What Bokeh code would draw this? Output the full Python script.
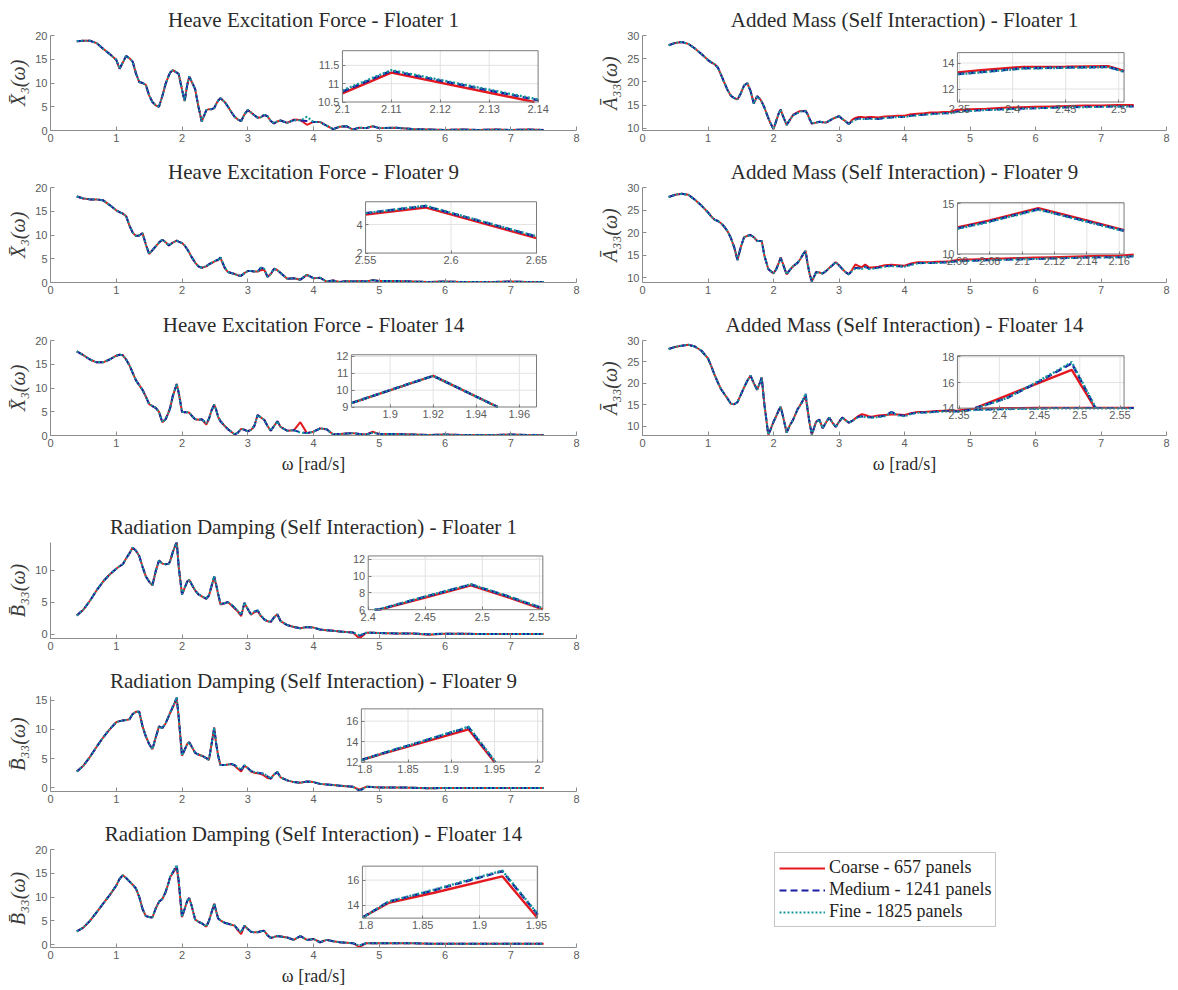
from bokeh.plotting import figure
from bokeh.models import Range1d, LinearAxis, FixedTicker, CustomJSTickFormatter, Legend, LegendItem
from bokeh.layouts import column, row
from bokeh.embed import file_html
from bokeh.resources import INLINE

# ---------------- data ----------------
omega = [0.4, 0.5, 0.6, 0.7, 0.8, 0.9, 1.0,
         1.05, 1.1, 1.15, 1.2, 1.25, 1.3, 1.35, 1.4, 1.45, 1.5, 1.55, 1.6, 1.65, 1.7, 1.75, 1.8,
         1.82, 1.86, 1.92, 1.95, 2.0, 2.04, 2.08, 2.11, 2.14, 2.2, 2.25, 2.3,
         2.37, 2.41, 2.45, 2.49, 2.52, 2.55, 2.585, 2.65,
         2.7, 2.75, 2.8, 2.85, 2.9, 2.95, 3.0, 3.05, 3.1, 3.15, 3.2, 3.25, 3.3, 3.35, 3.4, 3.45, 3.5,
         3.6, 3.7, 3.8, 3.9, 4.0, 4.1, 4.2, 4.3, 4.4, 4.5, 4.6, 4.7, 4.8, 4.9, 5.0,
         5.25, 5.5, 5.75, 6.0, 6.25, 6.5, 6.75, 7.0, 7.25, 7.5]

# Heave excitation force - floater 1
hf1_coarse = [18.8, 18.9, 18.9, 18.4, 17.2, 16.1, 14.9,
              13.0, 14.3, 15.7, 15.2, 14.5, 12.0, 10.2, 10.0, 9.6, 7.4, 6.0, 5.3, 5.0, 7.2, 9.8, 11.6,
              12.2, 12.7, 12.2, 11.9, 8.6, 6.2, 9.6, 11.3, 10.48, 8.7, 5.0, 1.9,
              4.3, 4.5, 4.5, 4.7, 5.6, 6.3, 6.8, 6.0,
              5.0, 3.9, 2.9, 2.3, 2.0, 3.4, 4.3, 3.8, 3.2, 2.7, 2.8, 3.3, 3.0, 2.0, 1.5, 1.9, 2.1,
              1.6, 2.3, 2.2, 1.2, 1.8, 1.8, 1.0, 0.3, 0.8, 0.9, 0.2, 0.6, 0.5, 0.9, 0.5,
              0.6, 0.3, 0.2, 0.1, 0.2, 0.1, 0.2, 0.1, 0.2, 0.1]
hf1_medium = [18.8, 18.9, 18.9, 18.4, 17.2, 16.1, 14.9,
              13.0, 14.3, 15.7, 15.2, 14.5, 12.0, 10.2, 10.0, 9.6, 7.4, 6.0, 5.3, 5.0, 7.2, 9.8, 11.6,
              12.2, 12.7, 12.2, 11.9, 8.6, 6.2, 9.65, 11.35, 10.55, 8.7, 5.0, 1.9,
              4.3, 4.5, 4.5, 4.7, 5.6, 6.3, 6.8, 6.0,
              5.0, 3.9, 2.9, 2.3, 2.0, 3.4, 4.3, 3.8, 3.2, 2.7, 2.8, 3.3, 3.0, 2.0, 1.5, 1.9, 2.1,
              1.6, 2.2, 2.1, 2.0, 1.8, 1.8, 1.0, 0.3, 0.8, 0.9, 0.2, 0.6, 0.5, 0.9, 0.5,
              0.6, 0.3, 0.2, 0.1, 0.2, 0.1, 0.2, 0.1, 0.2, 0.1]
hf1_fine = [18.8, 18.9, 18.9, 18.4, 17.2, 16.1, 14.9,
            13.0, 14.3, 15.7, 15.2, 14.5, 12.0, 10.2, 10.0, 9.6, 7.4, 6.0, 5.3, 5.0, 7.2, 9.8, 11.6,
            12.2, 12.7, 12.2, 11.9, 8.6, 6.2, 9.7, 11.37, 10.57, 8.7, 5.0, 1.9,
            4.3, 4.5, 4.5, 4.7, 5.6, 6.3, 6.8, 6.0,
            5.0, 3.9, 2.9, 2.3, 2.0, 3.4, 4.3, 3.8, 3.2, 2.7, 2.8, 3.3, 3.0, 2.0, 1.5, 1.9, 2.1,
            1.6, 2.2, 2.1, 2.9, 1.8, 1.8, 1.0, 0.3, 0.8, 0.9, 0.2, 0.6, 0.5, 0.9, 0.5,
            0.6, 0.3, 0.2, 0.1, 0.2, 0.1, 0.2, 0.1, 0.2, 0.1]

# Heave excitation force - floater 9
hf9_coarse = [18.1, 17.7, 17.5, 17.5, 17.3, 16.3, 15.2,
              14.8, 14.5, 14.0, 12.0, 10.5, 9.8, 9.9, 10.4, 8.0, 6.0, 6.8, 7.6, 8.4, 9.0, 8.5, 7.8,
              8.0, 8.4, 8.8, 8.6, 8.3, 7.8, 7.0, 6.3, 5.5, 4.2, 3.4, 3.1,
              3.4, 3.8, 4.1, 4.4, 4.6, 4.7, 5.2, 3.05,
              2.2, 2.0, 1.8, 1.5, 1.4, 2.0, 2.4, 2.4, 2.3, 2.3, 2.6, 2.7, 1.2, 1.8, 2.9, 2.6, 2.0,
              0.8, 0.9, 0.6, 1.6, 0.9, 1.0, 0.2, 0.4, 0.1, 0.3, 0.2, 0.3, 0.2, 0.5, 0.3,
              0.3, 0.2, 0.1, 0.2, 0.1, 0.1, 0.1, 0.2, 0.1, 0.1]
hf9_medium = [18.1, 17.7, 17.5, 17.5, 17.3, 16.3, 15.2,
              14.8, 14.5, 14.0, 12.0, 10.5, 9.8, 9.9, 10.4, 8.0, 6.0, 6.8, 7.6, 8.4, 9.0, 8.5, 7.8,
              8.0, 8.4, 8.8, 8.6, 8.3, 7.8, 7.0, 6.3, 5.5, 4.2, 3.4, 3.1,
              3.45, 3.85, 4.15, 4.45, 4.65, 4.8, 5.3, 3.15,
              2.2, 2.0, 1.8, 1.5, 1.4, 2.0, 2.4, 2.4, 2.3, 2.3, 3.1, 2.9, 1.2, 1.8, 2.9, 2.6, 2.0,
              0.8, 0.9, 0.6, 1.6, 0.9, 1.0, 0.2, 0.4, 0.1, 0.3, 0.2, 0.3, 0.2, 0.5, 0.3,
              0.3, 0.2, 0.1, 0.2, 0.1, 0.1, 0.1, 0.2, 0.1, 0.1]
hf9_fine = [18.1, 17.7, 17.5, 17.5, 17.3, 16.3, 15.2,
            14.8, 14.5, 14.0, 12.0, 10.5, 9.8, 9.9, 10.4, 8.0, 6.0, 6.8, 7.6, 8.4, 9.0, 8.5, 7.8,
            8.0, 8.4, 8.8, 8.6, 8.3, 7.8, 7.0, 6.3, 5.5, 4.2, 3.4, 3.1,
            3.45, 3.85, 4.15, 4.45, 4.65, 4.8, 5.32, 3.17,
            2.2, 2.0, 1.8, 1.5, 1.4, 2.0, 2.4, 2.4, 2.3, 2.3, 3.1, 2.9, 1.2, 1.8, 2.9, 2.6, 2.0,
            0.8, 0.9, 0.6, 1.7, 0.9, 1.0, 0.2, 0.4, 0.1, 0.3, 0.2, 0.3, 0.2, 0.5, 0.3,
            0.3, 0.2, 0.1, 0.2, 0.1, 0.1, 0.1, 0.2, 0.1, 0.1]

# Heave excitation force - floater 14
hf14_coarse = [17.7, 16.9, 16.0, 15.4, 15.4, 16.0, 16.8,
               17.0, 16.9, 16.0, 14.8, 13.2, 11.6, 10.6, 9.6, 8.2, 6.6, 6.2, 5.8, 5.0, 2.8, 3.4, 5.0,
               5.8, 8.3, 10.85, 9.0, 5.0, 4.9, 4.9, 4.8, 4.3, 3.4, 3.3, 3.4,
               2.3, 3.5, 5.3, 6.5, 5.4, 3.9, 3.0, 2.0,
               1.3, 0.8, 0.2, 0.6, 1.4, 1.2, 0.9, 1.2, 2.0, 4.3, 3.8, 3.3, 2.0, 1.0, 2.0, 3.0, 1.8,
               1.0, 1.1, 2.8, 0.5, 0.8, 1.5, 1.3, 0.2, 0.3, 0.4, 0.5, 0.3, 0.2, 0.8, 0.3,
               0.3, 0.2, 0.1, 0.2, 0.1, 0.1, 0.1, 0.2, 0.1, 0.1]
hf14_medium = [17.7, 16.9, 16.0, 15.4, 15.4, 16.0, 16.8,
               17.0, 16.9, 16.0, 14.8, 13.2, 11.6, 10.6, 9.6, 8.2, 6.6, 6.2, 5.8, 5.0, 2.8, 3.4, 5.0,
               5.8, 8.3, 10.85, 9.0, 5.0, 4.9, 4.9, 4.8, 4.3, 3.4, 3.3, 3.4,
               2.6, 3.5, 5.3, 6.5, 5.4, 3.9, 3.0, 2.0,
               1.3, 0.8, 0.2, 0.6, 1.4, 1.2, 0.9, 1.2, 2.0, 4.3, 3.8, 3.3, 2.0, 1.0, 2.0, 3.0, 1.8,
               1.0, 1.1, 0.7, 0.5, 0.8, 1.5, 1.3, 0.2, 0.3, 0.4, 0.5, 0.3, 0.2, 0.6, 0.3,
               0.3, 0.2, 0.1, 0.2, 0.1, 0.1, 0.1, 0.2, 0.1, 0.1]
hf14_fine = [17.7, 16.9, 16.0, 15.4, 15.4, 16.0, 16.8,
             17.0, 16.9, 16.0, 14.8, 13.2, 11.6, 10.6, 9.6, 8.2, 6.6, 6.2, 5.8, 5.0, 2.8, 3.4, 5.0,
             5.8, 8.3, 10.85, 9.0, 5.0, 4.9, 4.9, 4.8, 4.3, 3.4, 3.3, 3.4,
             2.6, 3.5, 5.3, 6.5, 5.4, 3.9, 3.0, 2.0,
             1.3, 0.8, 0.2, 0.6, 1.4, 1.2, 0.9, 1.2, 2.0, 4.3, 3.8, 3.3, 2.0, 1.0, 2.0, 3.0, 1.8,
             1.0, 1.1, 0.6, 0.5, 0.8, 1.5, 1.3, 0.2, 0.3, 0.4, 0.5, 0.3, 0.2, 0.6, 0.3,
             0.3, 0.2, 0.1, 0.2, 0.1, 0.1, 0.1, 0.2, 0.1, 0.1]

# Added mass (self interaction) - floater 1
am1_coarse = [27.9, 28.4, 28.6, 28.2, 27.2, 26.0, 24.7,
              24.2, 23.8, 23.1, 21.5, 19.8, 18.2, 17.0, 16.5, 16.2, 17.5, 19.2, 19.7, 18.0, 15.3, 16.9, 16.2,
              15.7, 14.5, 12.2, 11.2, 9.8, 11.5, 13.2, 14.0, 12.8, 10.7, 11.8, 12.9,
              13.45, 13.7, 13.72, 13.75, 13.05, 12.0, 11.0, 11.2,
              11.4, 11.3, 11.2, 11.6, 12.0, 12.3, 12.6, 12.0, 11.5, 10.9, 11.8, 12.2, 12.4, 12.4, 12.3, 12.4, 12.4,
              12.3, 12.5, 12.6, 12.7, 12.7, 13.0, 13.1, 13.2, 13.4, 13.4, 13.5, 13.5, 14.0, 14.0, 14.1,
              14.2, 14.4, 14.5, 14.6, 14.7, 14.8, 14.9, 14.9, 15.0, 15.0]
am1_medium = [27.9, 28.4, 28.6, 28.2, 27.2, 26.0, 24.7,
              24.2, 23.8, 23.1, 21.5, 19.8, 18.2, 17.0, 16.5, 16.2, 17.5, 19.2, 19.7, 18.0, 15.3, 16.9, 16.2,
              15.7, 14.5, 12.2, 11.2, 9.8, 11.5, 13.2, 14.0, 12.8, 10.7, 11.8, 12.8,
              13.3, 13.6, 13.65, 13.7, 13.0, 12.0, 11.0, 11.2,
              11.4, 11.3, 11.2, 11.6, 12.0, 12.3, 12.6, 12.0, 11.5, 10.9, 11.5, 11.9, 12.1, 12.1, 12.0, 12.1, 12.1,
              12.0, 12.2, 12.3, 12.4, 12.4, 12.7, 12.8, 12.9, 13.1, 13.1, 13.2, 13.2, 13.6, 13.7, 13.8,
              13.9, 14.1, 14.2, 14.3, 14.4, 14.5, 14.6, 14.6, 14.7, 14.7]
am1_fine = [27.9, 28.4, 28.6, 28.2, 27.2, 26.0, 24.7,
            24.2, 23.8, 23.1, 21.5, 19.8, 18.2, 17.0, 16.5, 16.2, 17.5, 19.2, 19.7, 18.0, 15.3, 16.9, 16.2,
            15.7, 14.5, 12.2, 11.2, 9.8, 11.5, 13.2, 14.0, 12.8, 10.7, 11.8, 12.8,
            13.28, 13.58, 13.63, 13.68, 12.98, 12.0, 11.0, 11.2,
            11.4, 11.3, 11.2, 11.6, 12.0, 12.3, 12.6, 12.0, 11.5, 10.9, 11.4, 11.8, 12.0, 12.0, 12.0, 12.0, 12.0,
            12.0, 12.2, 12.3, 12.4, 12.4, 12.6, 12.8, 12.9, 13.0, 13.1, 13.2, 13.2, 13.5, 13.6, 13.7,
            13.9, 14.0, 14.2, 14.3, 14.4, 14.5, 14.5, 14.6, 14.7, 14.7]

# Added mass (self interaction) - floater 9
am9_coarse = [27.9, 28.4, 28.6, 28.4, 27.3, 26.0, 24.5,
              23.6, 22.9, 22.6, 22.1, 21.3, 20.3, 18.8, 16.8, 14.0, 16.8, 19.0, 19.3, 19.5, 19.0, 18.2, 18.2,
              18.2, 15.0, 12.0, 11.6, 11.0, 11.95, 13.35, 14.55, 13.35, 10.8, 11.8, 12.6,
              13.4, 14.2, 15.2, 16.0, 13.2, 11.0, 9.2, 11.3,
              11.2, 11.0, 11.5, 12.2, 12.8, 13.5, 12.8, 12.0, 11.3, 10.8, 11.8, 13.0, 12.6, 12.4, 13.0, 12.4, 12.3,
              12.5, 12.8, 12.9, 12.8, 12.7, 13.2, 13.5, 13.5, 13.5, 13.6, 13.6, 13.7, 14.0, 14.1, 14.1,
              14.2, 14.3, 14.4, 14.5, 14.6, 14.7, 14.8, 14.9, 14.9, 15.2]
am9_medium = [27.9, 28.4, 28.6, 28.4, 27.3, 26.0, 24.5,
              23.6, 22.9, 22.6, 22.1, 21.3, 20.3, 18.8, 16.8, 14.0, 16.8, 19.0, 19.3, 19.5, 19.0, 18.2, 18.2,
              18.2, 15.0, 12.0, 11.6, 11.0, 11.85, 13.25, 14.45, 13.25, 10.8, 11.8, 12.6,
              13.4, 14.2, 15.2, 16.0, 13.2, 11.0, 9.2, 11.3,
              11.2, 11.0, 11.5, 12.2, 12.8, 13.5, 12.8, 12.0, 11.3, 10.8, 11.6, 12.2, 12.2, 12.0, 12.5, 12.1, 12.0,
              12.3, 12.6, 12.7, 12.6, 12.5, 13.0, 13.3, 13.3, 13.3, 13.4, 13.4, 13.5, 13.7, 13.8, 13.8,
              13.9, 14.0, 14.1, 14.2, 14.3, 14.4, 14.5, 14.6, 14.6, 14.8]
am9_fine = [27.9, 28.4, 28.6, 28.4, 27.3, 26.0, 24.5,
            23.6, 22.9, 22.6, 22.1, 21.3, 20.3, 18.8, 16.8, 14.0, 16.8, 19.0, 19.3, 19.5, 19.0, 18.2, 18.2,
            18.2, 15.0, 12.0, 11.6, 11.0, 11.8, 13.2, 14.42, 13.2, 10.8, 11.8, 12.6,
            13.4, 14.2, 15.2, 16.0, 13.2, 11.0, 9.2, 11.3,
            11.2, 11.0, 11.5, 12.2, 12.8, 13.5, 12.8, 12.0, 11.3, 10.8, 11.5, 12.1, 12.1, 12.0, 12.4, 12.0, 12.0,
            12.2, 12.5, 12.6, 12.6, 12.5, 12.9, 13.2, 13.3, 13.3, 13.3, 13.4, 13.5, 13.7, 13.7, 13.8,
            13.9, 14.0, 14.1, 14.2, 14.3, 14.4, 14.5, 14.5, 14.6, 14.8]

# Added mass (self interaction) - floater 14
am14_coarse = [28.0, 28.5, 28.8, 29.0, 28.6, 27.6, 25.8,
               24.0, 22.0, 20.2, 18.6, 17.5, 16.4, 15.2, 15.1, 15.6, 17.3, 19.0, 20.6, 21.8, 20.0, 18.5, 20.4,
               21.4, 15.2, 8.0, 9.0, 11.0, 12.3, 13.7, 14.5, 12.6, 8.5, 10.2, 11.5,
               14.0, 15.0, 16.0, 17.0, 13.9, 10.8, 8.0, 11.0,
               11.5, 9.5, 10.8, 12.0, 10.8, 9.8, 11.0, 12.0, 11.4, 10.8, 11.2, 11.8, 12.4, 12.8, 12.6, 12.3, 12.2,
               12.5, 12.6, 12.7, 12.7, 12.6, 13.0, 13.3, 13.3, 13.4, 13.5, 13.6, 13.7, 13.6, 13.8, 14.0,
               14.1, 14.2, 14.2, 14.3, 14.3, 14.3, 14.3, 14.3, 14.3, 14.3]
am14_medium = [28.0, 28.5, 28.8, 29.0, 28.6, 27.6, 25.8,
               24.0, 22.0, 20.2, 18.6, 17.5, 16.4, 15.2, 15.1, 15.6, 17.3, 19.0, 20.6, 21.8, 20.0, 18.5, 20.4,
               21.4, 15.2, 8.0, 9.0, 11.0, 12.3, 13.7, 14.5, 12.6, 8.5, 10.2, 11.5,
               14.0, 14.8, 16.1, 17.5, 13.95, 10.8, 8.0, 11.0,
               11.5, 9.5, 10.8, 12.0, 10.8, 9.8, 11.0, 12.0, 11.4, 10.8, 11.2, 11.8, 12.2, 12.3, 12.2, 12.1, 12.0,
               12.2, 12.4, 13.3, 12.6, 12.4, 12.9, 13.2, 13.2, 13.3, 13.4, 13.5, 13.5, 13.4, 13.6, 13.8,
               13.9, 14.0, 14.1, 14.1, 14.2, 14.2, 14.2, 14.2, 14.2, 14.2]
am14_fine = [28.0, 28.5, 28.8, 29.0, 28.6, 27.6, 25.8,
             24.0, 22.0, 20.2, 18.6, 17.5, 16.4, 15.2, 15.1, 15.6, 17.3, 19.0, 20.6, 21.8, 20.0, 18.5, 20.4,
             21.4, 15.2, 8.0, 9.0, 11.0, 12.3, 13.7, 14.5, 12.6, 8.5, 10.2, 11.5,
             13.95, 14.8, 16.15, 17.6, 14.0, 10.8, 8.0, 11.0,
             11.5, 9.5, 10.8, 12.0, 10.8, 9.8, 11.0, 12.0, 11.4, 10.8, 11.1, 11.7, 12.1, 12.2, 12.1, 12.0, 12.0,
             12.1, 12.3, 13.2, 12.5, 12.3, 12.8, 13.1, 13.1, 13.2, 13.3, 13.4, 13.4, 13.4, 13.5, 13.7,
             13.8, 13.9, 14.0, 14.0, 14.1, 14.1, 14.1, 14.1, 14.1, 14.1]

# Radiation damping (self interaction) - floater 1
rd1_coarse = [2.9, 3.8, 5.2, 6.8, 8.2, 9.3, 10.2,
              10.6, 10.9, 11.8, 12.6, 13.5, 13.0, 12.2, 10.5, 9.0, 8.2, 7.6, 9.8, 11.5, 11.0, 10.9, 11.0,
              11.4, 12.8, 14.4, 10.5, 6.2, 7.2, 8.2, 8.5, 7.9, 6.8, 6.2, 5.9,
              5.5, 6.0, 7.45, 8.9, 7.6, 6.2, 4.6, 4.8,
              5.0, 4.5, 4.0, 3.5, 2.8, 4.8, 3.9, 3.0, 3.4, 3.6, 2.8, 2.3, 2.0, 1.9, 2.6, 3.1, 2.0,
              1.4, 1.1, 0.9, 1.1, 1.0, 0.7, 0.6, 0.5, 0.4, 0.3, 0.25, -0.7, 0.2, 0.2, 0.15,
              0.1, 0.1, -0.1, 0.05, 0.05, 0.0, 0.0, 0.0, 0.0, 0.0]
rd1_medium = [2.9, 3.8, 5.2, 6.8, 8.2, 9.3, 10.2,
              10.6, 10.9, 11.8, 12.6, 13.5, 13.0, 12.2, 10.5, 9.0, 8.2, 7.6, 9.8, 11.5, 11.0, 10.9, 11.0,
              11.4, 12.8, 14.4, 10.5, 6.2, 7.2, 8.2, 8.5, 7.9, 6.8, 6.2, 5.9,
              5.55, 6.05, 7.55, 9.0, 7.7, 6.3, 4.7, 4.8,
              5.0, 4.6, 4.1, 3.6, 3.0, 4.9, 3.9, 3.1, 3.5, 3.7, 2.9, 2.3, 2.0, 1.9, 2.6, 3.1, 2.0,
              1.4, 1.1, 0.9, 1.1, 1.0, 0.7, 0.6, 0.5, 0.4, 0.3, 0.25, -0.3, 0.2, 0.2, 0.15,
              0.1, 0.1, -0.05, 0.05, 0.05, 0.0, 0.0, 0.0, 0.0, 0.0]
rd1_fine = [2.9, 3.8, 5.2, 6.8, 8.2, 9.3, 10.2,
            10.6, 10.9, 11.8, 12.6, 13.5, 13.0, 12.2, 10.5, 9.0, 8.2, 7.6, 9.8, 11.5, 11.0, 10.9, 11.0,
            11.4, 12.8, 14.4, 10.5, 6.2, 7.2, 8.2, 8.5, 7.9, 6.8, 6.2, 5.9,
            5.55, 6.06, 7.57, 9.03, 7.72, 6.32, 4.7, 4.8,
            5.0, 4.6, 4.1, 3.6, 3.0, 4.9, 3.9, 3.1, 3.5, 3.7, 2.9, 2.3, 2.0, 1.9, 2.6, 3.1, 2.0,
            1.4, 1.1, 0.9, 1.1, 1.0, 0.7, 0.6, 0.5, 0.4, 0.3, 0.25, -0.2, 0.2, 0.2, 0.15,
            0.1, 0.1, -0.05, 0.05, 0.05, 0.0, 0.0, 0.0, 0.0, 0.0]

# Radiation damping (self interaction) - floater 9
rd9_coarse = [2.8, 3.8, 5.3, 7.0, 8.6, 10.0, 11.2,
              11.4, 11.5, 11.6, 11.7, 12.6, 13.0, 13.0, 10.5, 8.8, 7.5, 6.6, 8.6, 10.5, 10.2, 11.0, 12.3,
              12.8, 13.75, 15.2, 12.0, 5.5, 6.5, 7.5, 7.8, 7.2, 6.0, 5.7, 5.5,
              5.1, 4.8, 7.5, 10.3, 7.5, 5.5, 3.9, 3.9,
              4.0, 4.1, 3.8, 3.3, 2.8, 3.8, 3.4, 2.8, 2.6, 2.5, 2.4, 2.1, 1.7, 1.6, 2.3, 2.7, 1.8,
              1.3, 1.0, 0.9, 1.1, 1.0, 0.7, 0.6, 0.5, 0.4, 0.3, 0.2, -0.3, 0.2, 0.15, 0.1,
              0.1, 0.05, -0.05, 0.0, 0.0, 0.0, 0.0, 0.0, 0.0, 0.0]
rd9_medium = [2.8, 3.8, 5.3, 7.0, 8.6, 10.0, 11.2,
              11.4, 11.5, 11.6, 11.7, 12.6, 13.0, 13.0, 10.5, 8.8, 7.5, 6.6, 8.6, 10.5, 10.2, 11.0, 12.3,
              12.85, 13.85, 15.4, 12.1, 5.5, 6.5, 7.5, 7.8, 7.2, 6.0, 5.7, 5.5,
              5.1, 4.8, 7.5, 10.3, 7.5, 5.5, 3.9, 3.9,
              4.0, 4.1, 3.9, 3.5, 3.1, 3.9, 3.4, 2.9, 2.7, 2.6, 2.5, 2.4, 2.0, 1.6, 2.3, 2.7, 1.8,
              1.3, 1.0, 0.9, 1.1, 1.0, 0.7, 0.6, 0.5, 0.4, 0.3, 0.2, -0.5, 0.2, 0.15, 0.1,
              0.1, 0.05, -0.05, 0.0, 0.0, 0.0, 0.0, 0.0, 0.0, 0.0]
rd9_fine = [2.8, 3.8, 5.3, 7.0, 8.6, 10.0, 11.2,
            11.4, 11.5, 11.6, 11.7, 12.6, 13.0, 13.0, 10.5, 8.8, 7.5, 6.6, 8.6, 10.5, 10.2, 11.0, 12.3,
            12.85, 13.87, 15.45, 12.15, 5.5, 6.5, 7.5, 7.8, 7.2, 6.0, 5.7, 5.5,
            5.1, 4.8, 7.5, 10.3, 7.5, 5.5, 3.9, 3.9,
            4.0, 4.1, 3.9, 3.5, 3.1, 3.9, 3.4, 2.9, 2.7, 2.6, 2.5, 2.4, 2.0, 1.6, 2.3, 2.7, 1.8,
            1.3, 1.0, 0.9, 1.1, 1.0, 0.7, 0.6, 0.5, 0.4, 0.3, 0.2, -0.5, 0.2, 0.15, 0.1,
            0.1, 0.05, -0.05, 0.0, 0.0, 0.0, 0.0, 0.0, 0.0, 0.0]

# Radiation damping (self interaction) - floater 14
rd14_coarse = [2.8, 3.6, 5.0, 6.8, 8.6, 10.4, 12.4,
               13.8, 14.6, 14.0, 13.3, 12.6, 11.8, 10.0, 7.5, 6.0, 5.8, 5.7, 7.6, 9.0, 9.6, 11.0, 13.2,
               14.2, 15.0, 16.3, 13.1, 5.8, 7.5, 9.2, 9.8, 8.5, 5.3, 4.8, 4.5,
               3.8, 5.0, 6.8, 8.6, 7.0, 5.5, 5.1, 4.6,
               4.4, 4.2, 4.0, 3.0, 2.2, 4.0, 3.3, 2.7, 2.6, 2.6, 2.8, 2.9, 2.0, 1.4, 1.6, 1.8, 1.7,
               1.5, 1.0, 1.8, 1.0, 1.2, 0.5, 1.0, 0.7, 0.5, 0.4, 0.3, -0.5, 0.3, 0.3, 0.3,
               0.3, 0.3, 0.2, 0.2, 0.2, 0.2, 0.2, 0.2, 0.2, 0.2]
rd14_medium = [2.8, 3.6, 5.0, 6.8, 8.6, 10.4, 12.4,
               13.8, 14.6, 14.0, 13.3, 12.6, 11.8, 10.0, 7.5, 6.0, 5.8, 5.7, 7.6, 9.0, 9.6, 11.0, 13.2,
               14.3, 15.2, 16.7, 13.4, 5.8, 7.5, 9.2, 9.8, 8.5, 5.3, 4.8, 4.5,
               3.8, 5.0, 6.8, 8.6, 7.0, 5.5, 5.1, 4.6,
               4.4, 4.2, 4.0, 3.2, 2.6, 4.0, 3.3, 2.7, 2.6, 2.6, 2.8, 2.9, 2.0, 1.4, 1.6, 1.8, 1.7,
               1.5, 1.0, 1.8, 1.0, 1.2, 0.5, 1.0, 0.7, 0.5, 0.4, 0.3, -0.2, 0.3, 0.3, 0.3,
               0.3, 0.3, 0.2, 0.2, 0.2, 0.2, 0.2, 0.2, 0.2, 0.2]
rd14_fine = [2.8, 3.6, 5.0, 6.8, 8.6, 10.4, 12.4,
             13.8, 14.6, 14.0, 13.3, 12.6, 11.8, 10.0, 7.5, 6.0, 5.8, 5.7, 7.6, 9.0, 9.6, 11.0, 13.2,
             14.3, 15.25, 16.75, 13.45, 5.8, 7.5, 9.2, 9.8, 8.5, 5.3, 4.8, 4.5,
             3.8, 5.0, 6.8, 8.6, 7.0, 5.5, 5.1, 4.6,
             4.4, 4.2, 4.0, 3.2, 2.6, 4.0, 3.3, 2.7, 2.6, 2.6, 2.8, 2.9, 2.0, 1.4, 1.6, 1.8, 1.7,
             1.5, 1.0, 1.8, 1.0, 1.2, 0.5, 1.0, 0.7, 0.5, 0.4, 0.3, -0.2, 0.3, 0.3, 0.3,
             0.3, 0.3, 0.2, 0.2, 0.2, 0.2, 0.2, 0.2, 0.2, 0.2]

# axis ticks / limits
x_ticks_main = [0, 1, 2, 3, 4, 5, 6, 7, 8]
heave_y_ticks = [0, 5, 10, 15, 20]
am_y_ticks = [10, 15, 20, 25, 30]
rd1_y_ticks = [0, 5, 10]
rd9_y_ticks = [0, 5, 10, 15]
rd14_y_ticks = [0, 5, 10, 15, 20]

# inset zoom windows and their tick labels
hf1_inset_x, hf1_inset_y = [2.1, 2.14], [10.5, 11.9]
hf1_inset_xt, hf1_inset_yt = [2.1, 2.11, 2.12, 2.13, 2.14], [10.5, 11, 11.5]
hf9_inset_x, hf9_inset_y = [2.55, 2.65], [2.0, 5.6]
hf9_inset_xt, hf9_inset_yt = [2.55, 2.6, 2.65], [2, 4]
hf14_inset_x, hf14_inset_y = [1.882, 1.968], [9.0, 12.1]
hf14_inset_xt, hf14_inset_yt = [1.9, 1.92, 1.94, 1.96], [9, 10, 11, 12]
am1_inset_x, am1_inset_y = [2.348, 2.505], [11.0, 14.8]
am1_inset_xt, am1_inset_yt = [2.35, 2.4, 2.45, 2.5], [12, 14]
am9_inset_x, am9_inset_y = [2.06, 2.163], [10.0, 15.1]
am9_inset_xt, am9_inset_yt = [2.06, 2.08, 2.1, 2.12, 2.14, 2.16], [10, 15]
am14_inset_x, am14_inset_y = [2.348, 2.555], [14.0, 18.1]
am14_inset_xt, am14_inset_yt = [2.35, 2.4, 2.45, 2.5, 2.55], [14, 16, 18]
rd1_inset_x, rd1_inset_y = [2.4, 2.553], [6.0, 12.4]
rd1_inset_xt, rd1_inset_yt = [2.4, 2.45, 2.5, 2.55], [6, 8, 10, 12]
rd9_inset_x, rd9_inset_y = [1.796, 2.006], [12.0, 17.2]
rd9_inset_xt, rd9_inset_yt = [1.8, 1.85, 1.9, 1.95, 2.0], [12, 14, 16]
rd14_inset_x, rd14_inset_y = [1.797, 1.951], [13.0, 17.1]
rd14_inset_xt, rd14_inset_yt = [1.8, 1.85, 1.9, 1.95], [14, 16]

legend_labels = ["Coarse - 657 panels", "Medium - 1241 panels", "Fine - 1825 panels"]

# ---------------- style ----------------
RED, BLUE, TEAL = "#e3191f", "#1b1ba3", "#13999a"
AXIS_C, LABEL_C, BOX_C, GRID_C = "#8c8c8c", "#5c5c5c", "#7a7a7a", "#e2e2e2"
STYLES = [dict(line_color=RED, line_width=2.0, line_dash="solid"),
          dict(line_color=BLUE, line_width=2.0, line_dash="7 4"),
          dict(line_color=TEAL, line_width=2.0, line_dash="2 2")]
SERIF = "Liberation Serif"
SANS = "Liberation Sans"
FMT = CustomJSTickFormatter(code="return (Math.round(tick*1000)/1000).toString();")


def clip_polyline(xs, ys, x0, x1, y0, y1):
    """Liang-Barsky clipping of a polyline to a rectangle; returns list of pieces."""
    pieces, cx, cy = [], [], []
    for i in range(len(xs) - 1):
        ax, ay, bx, by = xs[i], ys[i], xs[i + 1], ys[i + 1]
        dx, dy = bx - ax, by - ay
        t0, t1, ok = 0.0, 1.0, True
        for p, q in ((-dx, ax - x0), (dx, x1 - ax), (-dy, ay - y0), (dy, y1 - ay)):
            if p == 0:
                if q < 0:
                    ok = False
                    break
            else:
                t = q / p
                if p < 0:
                    if t > t1:
                        ok = False
                        break
                    t0 = max(t0, t)
                else:
                    if t < t0:
                        ok = False
                        break
                    t1 = min(t1, t)
        if not ok:
            if cx:
                pieces.append((cx, cy))
                cx, cy = [], []
            continue
        sx, sy, ex, ey = ax + t0 * dx, ay + t0 * dy, ax + t1 * dx, ay + t1 * dy
        if cx and abs(cx[-1] - sx) < 1e-12 and abs(cy[-1] - sy) < 1e-12:
            cx.append(ex)
            cy.append(ey)
        else:
            if cx:
                pieces.append((cx, cy))
            cx, cy = [sx, ex], [sy, ey]
    if cx:
        pieces.append((cx, cy))
    return pieces


def style_axis(ax, tick_in=4, line_color=AXIS_C):
    ax.axis_line_color = line_color
    ax.major_tick_line_color = line_color
    ax.minor_tick_line_color = None
    ax.major_tick_in = tick_in
    ax.major_tick_out = 0
    ax.major_label_text_font = SANS
    ax.major_label_text_font_size = "11px"
    ax.major_label_text_color = LABEL_C
    ax.major_label_standoff = 3


def panel(title, ylabel, series, ylim, yticks, inset, frac, width, height,
          border, xlabel=None):
    left, right, top, bottom = border
    p = figure(width=width, height=height, x_range=Range1d(0, 8),
               y_range=Range1d(ylim[0], ylim[1]), toolbar_location=None,
               output_backend="svg", min_border_left=left, min_border_right=right,
               min_border_top=top, min_border_bottom=bottom, title=title)
    p.title.align = "center"
    p.title.standoff = 7
    p.title.text_font = SERIF
    p.title.text_font_size = "21px"
    p.title.text_font_style = "normal"
    p.title.text_color = "#2a2a2a"
    p.grid.visible = False
    p.outline_line_color = None
    p.background_fill_color = "white"
    style_axis(p.xaxis[0])
    style_axis(p.yaxis[0])
    p.xaxis[0].ticker = FixedTicker(ticks=x_ticks_main)
    p.yaxis[0].ticker = FixedTicker(ticks=yticks)
    p.yaxis[0].axis_label = ylabel
    p.yaxis[0].axis_label_text_font = SERIF
    p.yaxis[0].axis_label_text_font_size = "20px"
    p.yaxis[0].axis_label_text_font_style = "italic"
    p.yaxis[0].axis_label_text_color = "#3a3a3a"
    p.yaxis[0].axis_label_standoff = 3
    if xlabel:
        p.xaxis[0].axis_label = xlabel
        p.xaxis[0].axis_label_text_font = SERIF
        p.xaxis[0].axis_label_text_font_size = "18px"
        p.xaxis[0].axis_label_text_font_style = "normal"
        p.xaxis[0].axis_label_text_color = "#2a2a2a"
        p.xaxis[0].axis_label_standoff = 4

    # main curves
    for ys, st in zip(series, STYLES):
        p.line(omega, ys, **st)

    # inset: extra ranges that map the zoom window onto a sub-rectangle of the frame
    (u0, u1), (v0, v1), xt, yt = inset
    fx0, fx1, fy0, fy1 = frac
    kx = (u1 - u0) / (fx1 - fx0)
    ky = (v1 - v0) / (fy1 - fy0)
    p.extra_x_ranges = {"ix": Range1d(u0 - fx0 * kx, u1 + (1 - fx1) * kx)}
    p.extra_y_ranges = {"iy": Range1d(v0 - fy0 * ky, v1 + (1 - fy1) * ky)}
    rk = dict(x_range_name="ix", y_range_name="iy")

    gx = [t for t in xt if u0 < t < u1]
    gy = [t for t in yt if v0 < t < v1]
    if gx:
        p.segment(x0=gx, y0=[v0] * len(gx), x1=gx, y1=[v1] * len(gx),
                  line_color=GRID_C, line_width=1, **rk)
    if gy:
        p.segment(x0=[u0] * len(gy), y0=gy, x1=[u1] * len(gy), y1=gy,
                  line_color=GRID_C, line_width=1, **rk)
    for ys, st in zip(series, STYLES):
        pieces = clip_polyline(omega, ys, u0, u1, v0, v1)
        if pieces:
            p.multi_line(xs=[pc[0] for pc in pieces], ys=[pc[1] for pc in pieces],
                         **dict(st, line_width=2.4), **rk)
    p.quad(left=[u0], right=[u1], bottom=[v0], top=[v1], fill_color=None,
           line_color=BOX_C, line_width=1, **rk)

    axb = LinearAxis(fixed_location=v0, bounds=(u0, u1), ticker=FixedTicker(ticks=xt),
                     formatter=FMT, **rk)
    style_axis(axb, tick_in=3, line_color=BOX_C)
    axb.axis_line_color = None
    p.add_layout(axb, "below")
    axl = LinearAxis(fixed_location=u0, bounds=(v0, v1), ticker=FixedTicker(ticks=yt),
                     formatter=FMT, **rk)
    style_axis(axl, tick_in=3, line_color=BOX_C)
    axl.axis_line_color = None
    p.add_layout(axl, "left")
    return p


XLAB = "\u03c9 [rad/s]"
LX = "X\u0304\u2083(\u03c9)"
LA = "A\u0304\u2083\u2083(\u03c9)"
LB = "B\u0304\u2083\u2083(\u03c9)"

WL, WR = 596, 582
BL = (50, 20)    # left column: frame x 50..576
BR = (46, 12)    # right column: frame x 642..1166

hf1 = panel("Heave Excitation Force - Floater 1", LX, [hf1_coarse, hf1_medium, hf1_fine],
            (0, 20), heave_y_ticks, (hf1_inset_x, hf1_inset_y, hf1_inset_xt, hf1_inset_yt),
            (0.555, 0.927, 0.30, 0.84), WL, 152, BL + (35, 22))
am1 = panel("Added Mass (Self Interaction) - Floater 1", LA, [am1_coarse, am1_medium, am1_fine],
            (9.5, 30), am_y_ticks, (am1_inset_x, am1_inset_y, am1_inset_xt, am1_inset_yt),
            (0.601, 0.919, 0.30, 0.82), WR, 152, BR + (35, 22))
hf9 = panel("Heave Excitation Force - Floater 9", LX, [hf9_coarse, hf9_medium, hf9_fine],
            (0, 20), heave_y_ticks, (hf9_inset_x, hf9_inset_y, hf9_inset_xt, hf9_inset_yt),
            (0.599, 0.924, 0.31, 0.85), WL, 153, BL + (35, 23))
am9 = panel("Added Mass (Self Interaction) - Floater 9", LA, [am9_coarse, am9_medium, am9_fine],
            (9.0, 30), am_y_ticks, (am9_inset_x, am9_inset_y, am9_inset_xt, am9_inset_yt),
            (0.601, 0.919, 0.30, 0.84), WR, 153, BR + (35, 23))
hf14 = panel("Heave Excitation Force - Floater 14", LX, [hf14_coarse, hf14_medium, hf14_fine],
             (0, 20), heave_y_ticks, (hf14_inset_x, hf14_inset_y, hf14_inset_xt, hf14_inset_yt),
             (0.572, 0.924, 0.30, 0.85), WL, 185, BL + (35, 55), XLAB)
am14 = panel("Added Mass (Self Interaction) - Floater 14", LA, [am14_coarse, am14_medium, am14_fine],
             (7.8, 30), am_y_ticks, (am14_inset_x, am14_inset_y, am14_inset_xt, am14_inset_yt),
             (0.601, 0.919, 0.288, 0.84), WR, 185, BR + (35, 55), XLAB)
rd1 = panel("Radiation Damping (Self Interaction) - Floater 1", LB, [rd1_coarse, rd1_medium, rd1_fine],
            (-0.7, 14.3), rd1_y_ticks, (rd1_inset_x, rd1_inset_y, rd1_inset_xt, rd1_inset_yt),
            (0.604, 0.936, 0.30, 0.86), WL, 166, BL + (52, 18))
rd9 = panel("Radiation Damping (Self Interaction) - Floater 9", LB, [rd9_coarse, rd9_medium, rd9_fine],
            (-0.6, 15.6), rd9_y_ticks, (rd9_inset_x, rd9_inset_y, rd9_inset_xt, rd9_inset_yt),
            (0.591, 0.936, 0.31, 0.87), WL, 153, BL + (40, 18))
rd14 = panel("Radiation Damping (Self Interaction) - Floater 14", LB, [rd14_coarse, rd14_medium, rd14_fine],
             (-0.6, 20), rd14_y_ticks, (rd14_inset_x, rd14_inset_y, rd14_inset_xt, rd14_inset_yt),
             (0.593, 0.926, 0.30, 0.83), WL, 181, BL + (40, 43), XLAB)

# legend panel (bottom right); proxy lines lie outside the visible range
lf = figure(width=WR, height=500, x_range=Range1d(0, 1), y_range=Range1d(0, 1),
            toolbar_location=None, output_backend="svg", x_axis_location=None,
            y_axis_location=None, min_border=0)
lf.grid.visible = False
lf.outline_line_color = None
rends = [lf.line(x=[-3, -2], y=[-3, -2], **st) for st in STYLES]
leg = Legend(items=[LegendItem(label=lab, renderers=[r]) for lab, r in zip(legend_labels, rends)],
             location=(178, 63), border_line_color="#8c8c8c", border_line_width=1,
             background_fill_color="white", padding=4, spacing=1, margin=0,
             label_text_font=SERIF, label_text_font_size="18px", label_text_color="#1e1e1e",
             glyph_width=46, glyph_height=20, label_height=20, label_standoff=4)
lf.add_layout(leg)

layout = column(row(hf1, am1), row(hf9, am9), row(hf14, am14),
                row(column(rd1, rd9, rd14), lf))

open("out.html", "w").write(file_html(layout, INLINE))
